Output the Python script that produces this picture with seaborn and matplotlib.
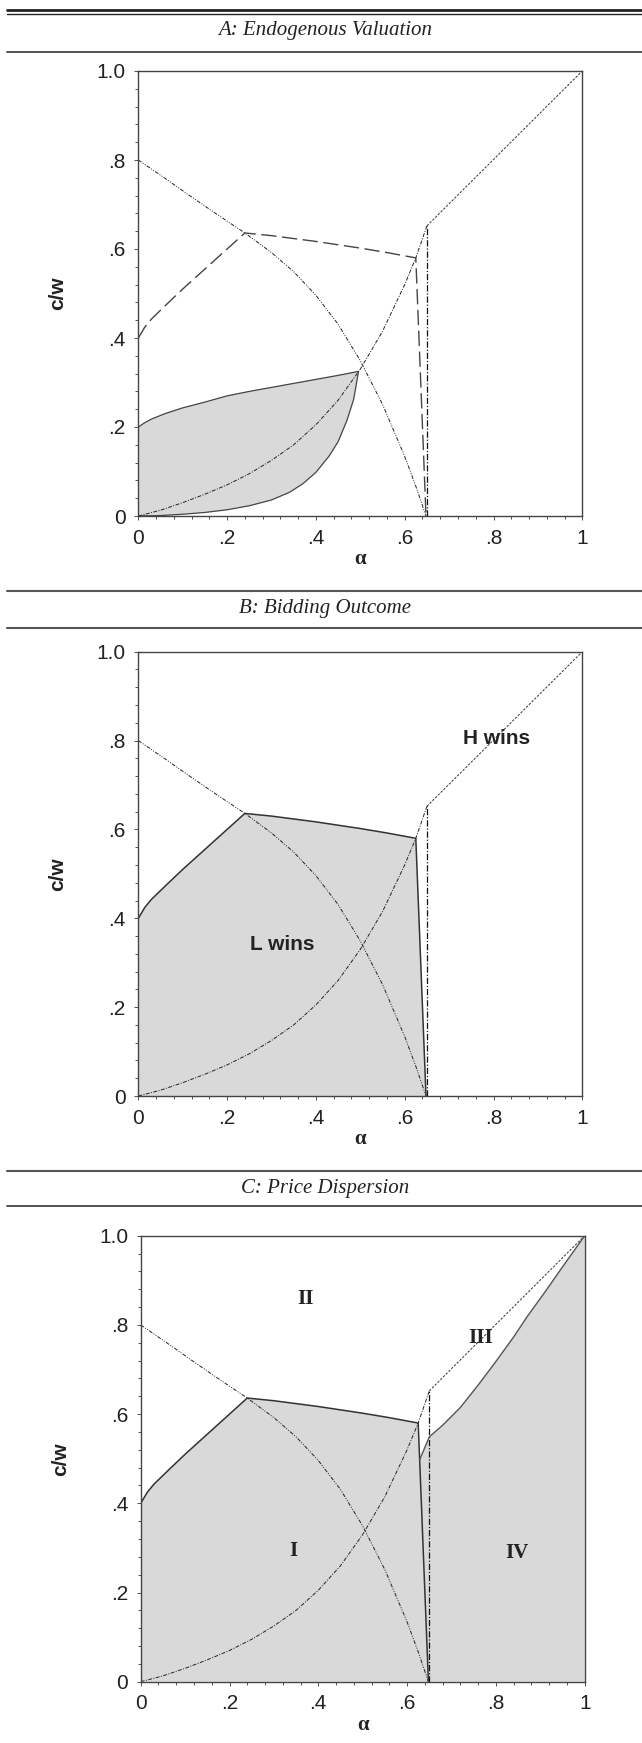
import seaborn as sns
import matplotlib.pyplot as plt
from matplotlib.lines import Line2D

sns.set_style('ticks')
plt.rcParams['font.family'] = ['Liberation Sans', 'DejaVu Sans']

W, H = 642, 1743

# curves: alpha on x, c/w on y
dec_x = [0, .06, .12, .18, .24, .3, .35, .4, .45, .5, .55, .6, .625, .648]
dec_y = [.8, .759, .717, .676, .636, .592, .549, .496, .431, .349, .251, .134, .067, 0]

inc_x = [0, .05, .1, .15, .2, .25, .3, .35, .4, .45, .5, .55, .6, .625, .65]
inc_y = [0, .013, .03, .049, .07, .095, .125, .16, .205, .26, .33, .415, .52, .58, .652]

diag_x = [.65, 1]
diag_y = [.652, 1]

vline_x = [.65, .65]
vline_y = [0, .652]

# L / H boundary
bnd_x = [0, .015, .03, .06, .1, .15, .2, .24, .3, .4, .5, .56, .625, .648]
bnd_y = [.4, .425, .443, .472, .51, .555, .6, .636, .63, .617, .602, .592, .58, 0]

# panel A shaded lens
up_x = [0, .015, .03, .06, .1, .15, .2, .25, .3, .35, .4, .45, .496]
up_y = [.2, .21, .218, .23, .243, .256, .27, .28, .289, .298, .307, .316, .325]
lo_x = [0, .05, .1, .15, .2, .25, .3, .34, .37, .4, .43, .45, .47, .485, .496]
lo_y = [0, .001, .004, .008, .014, .023, .036, .053, .072, .098, .135, .167, .215, .262, .325]

# region IV upper edge (panel C)
iv_x = [.628, .65, .68, .72, .76, .8, .84, .87, .91, .95, 1]
iv_y = [.497, .549, .575, .615, .665, .718, .773, .818, .873, .93, 1]

x_ticks = [0, .2, .4, .6, .8, 1]
x_ticklabels = ['0', '.2', '.4', '.6', '.8', '1']
y_ticks = [0, .2, .4, .6, .8, 1]
y_ticklabels = ['0', '.2', '.4', '.6', '.8', '1.0']

titles = ['A: Endogenous Valuation', 'B: Bidding Outcome', 'C: Price Dispersion']

FILL = '#d9d9d9'
serif = ['Liberation Serif', 'DejaVu Serif']
fig = plt.figure(figsize=(W / 100, H / 100), dpi=100)


def px_axes(left, top, right, bottom):
    return fig.add_axes([left / W, 1 - bottom / H, (right - left) / W, (bottom - top) / H])


def hrule(y, lw=1.2, color='#333'):
    fig.add_artist(Line2D([7 / W, 1], [1 - y / H, 1 - y / H], transform=fig.transFigure,
                          color=color, lw=lw))


def line(ax, x, y, **kw):
    sns.lineplot(x=x, y=y, sort=False, estimator=None, ax=ax, legend=False, **kw)


def base(ax):
    ax.set_xlim(0, 1)
    ax.set_ylim(0, 1)
    ax.set_xticks(x_ticks)
    ax.set_xticklabels(x_ticklabels)
    ax.set_yticks(y_ticks)
    ax.set_yticklabels(y_ticklabels)
    ax.set_xticks([i * .04 for i in range(26)], minor=True)
    ax.set_yticks([i * .04 for i in range(26)], minor=True)
    ax.tick_params(which='major', length=3, width=.6, color='#333', labelsize=15,
                   labelcolor='#222', pad=6)
    ax.tick_params(which='minor', length=2, width=.6, color='#333')
    for s in ax.spines.values():
        s.set_color('#444')
        s.set_linewidth(1)
    ax.set_xlabel('α', fontsize=15, fontweight='bold', family=serif, color='#222')
    ax.set_ylabel('c/w', fontsize=15, fontweight='bold', color='#222')
    ax.xaxis.set_label_coords(.5, -.075)
    ax.yaxis.set_label_coords(-.16, .5)


def common_lines(ax):
    line(ax, dec_x, dec_y, color='#222', linewidth=.7, linestyle=(0, (4, 1.5, 1, 1.5, 1, 1.5)))
    line(ax, inc_x, inc_y, color='#222', linewidth=.7, linestyle=(0, (4, 1.5, 1, 1.5)))
    line(ax, diag_x, diag_y, color='#333', linewidth=.7, linestyle=(0, (2.5, 1.5)))
    line(ax, vline_x, vline_y, color='#111', linewidth=.9, linestyle=(0, (5, 1.5, 1, 1.5)))


# header rules and titles
hrule(9.5, lw=2, color='#222')
hrule(13.5, lw=1, color='#222')
hrule(52)
hrule(591, color='#555', lw=1.5)
hrule(628, color='#555', lw=1.5)
hrule(1171, color='#555', lw=1.5)
hrule(1206)
for y, t in zip([31, 609, 1189], titles):
    fig.text(325 / W, 1 - y / H, t, ha='center', va='center', fontsize=15, style='italic',
             family=serif, color='#222')

# panel A
axA = px_axes(138.3, 71, 582.3, 516)
base(axA)
axA.fill(up_x + lo_x[::-1], up_y + lo_y[::-1], color=FILL, lw=0)
line(axA, up_x, up_y, color='#444', linewidth=.9)
line(axA, lo_x, lo_y, color='#444', linewidth=.9)
common_lines(axA)
line(axA, bnd_x, bnd_y, color='#444', linewidth=1, linestyle=(0, (11, 4)))

# panel B
axB = px_axes(138.3, 651.7, 582.3, 1096)
base(axB)
axB.fill([0] + bnd_x, [0] + bnd_y, color=FILL, lw=0)
common_lines(axB)
line(axB, bnd_x, bnd_y, color='#333', linewidth=1.1)
axB.text(.325, .34, 'L wins', ha='center', va='center', fontsize=15, fontweight='bold', color='#222')
axB.text(.808, .805, 'H wins', ha='center', va='center', fontsize=15, fontweight='bold', color='#222')

# panel C
axC = px_axes(140.7, 1235.7, 584.7, 1681.7)
base(axC)
axC.fill([0] + bnd_x, [0] + bnd_y, color=FILL, lw=0)
axC.fill([bnd_x[-1], 1] + iv_x[::-1], [0, 0] + iv_y[::-1], color=FILL, lw=0)
common_lines(axC)
line(axC, bnd_x, bnd_y, color='#333', linewidth=1.1)
line(axC, iv_x, iv_y, color='#555', linewidth=1)
for tx, ty, lab in [(.372, .857, 'II'), (.765, .771, 'III'), (.344, .293, 'I'), (.847, .289, 'IV')]:
    axC.text(tx, ty, lab, ha='center', va='center', fontsize=15, fontweight='bold',
             family=serif, color='#222')

fig.savefig('out.png', dpi=100)
